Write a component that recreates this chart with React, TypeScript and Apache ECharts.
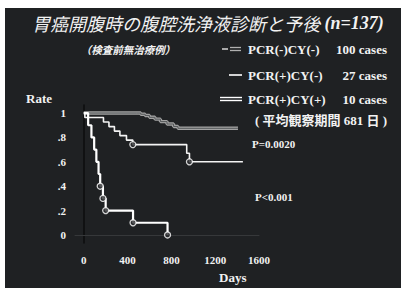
import React, { useEffect, useRef } from "react";
import * as echarts from "echarts";

const titleMain = "胃癌開腹時の腹腔洗浄液診断と予後";
const titleN = "(n=137)";
const subtitle = "（検査前無治療例）";
const seriesNames = ["PCR(-)CY(-)", "PCR(+)CY(-)", "PCR(+)CY(+)"];
const caseLabels = ["100 cases", "27 cases", "10 cases"];
const followUpNote = "( 平均観察期間 681 日 )";
const pNotes = ["P=0.0020", "P<0.001"];

// Kaplan-Meier style step data (days, survival rate)
const days1 = [0, 484, 520, 560, 600, 650, 700, 760, 820, 860, 1408];
const rate1 = [1, 1, 0.99, 0.98, 0.965, 0.95, 0.93, 0.91, 0.89, 0.875, 0.875];
const days2 = [0, 10, 180, 230, 280, 330, 390, 448, 940, 965, 1453];
const rate2 = [1, 0.963, 0.926, 0.889, 0.852, 0.815, 0.778, 0.741, 0.67, 0.6, 0.6];
const days3 = [0, 40, 70, 95, 115, 135, 150, 175, 200, 450, 765];
const rate3 = [1, 0.9, 0.8, 0.7, 0.6, 0.5, 0.4, 0.3, 0.2, 0.1, 0];
const censorDays2 = [448, 965];
const censorRates2 = [0.741, 0.6];
const censorDays3 = [150, 175, 200, 450, 765];
const censorRates3 = [0.4, 0.3, 0.2, 0.1, 0];

const xTicks = [0, 400, 800, 1200, 1600];
const yTicks = [0, 0.2, 0.4, 0.6, 0.8, 1];
const yTickLabels = ["0", ".2", ".4", ".6", ".8", "1"];

const zip = (a: number[], b: number[]) => a.map((v, i) => [v, b[i]]);

const SERIF = "'Liberation Serif', 'Noto Sans CJK JP', serif";
const CJK = "'Noto Sans CJK JP', sans-serif";
const FG = "#f2f2f2";

export default function App() {
  const ref = useRef<HTMLDivElement>(null);
  useEffect(() => {
    if (!ref.current) return;
    const chart = echarts.init(ref.current, undefined, { renderer: "svg" });
    const legendRows = [49, 75, 99];
    const graphic: any[] = [];
    // legend symbols
    graphic.push(
      { type: "line", shape: { x1: 222, y1: 49, x2: 228, y2: 49 }, style: { stroke: "#b8b8b8", lineWidth: 1.8 } },
      { type: "line", shape: { x1: 230, y1: 47.5, x2: 241, y2: 47.5 }, style: { stroke: "#b0b0b0", lineWidth: 1.3 } },
      { type: "line", shape: { x1: 230, y1: 50.5, x2: 241, y2: 50.5 }, style: { stroke: "#b0b0b0", lineWidth: 1.3 } },
      { type: "line", shape: { x1: 229, y1: 75, x2: 242, y2: 75 }, style: { stroke: "#ffffff", lineWidth: 1.6 } },
      { type: "line", shape: { x1: 220, y1: 97.5, x2: 242, y2: 97.5 }, style: { stroke: "#ffffff", lineWidth: 1.4 } },
      { type: "line", shape: { x1: 220, y1: 100.5, x2: 242, y2: 100.5 }, style: { stroke: "#ffffff", lineWidth: 1.4 } }
    );
    seriesNames.forEach((n, i) => {
      graphic.push({
        type: "text", x: 248, y: legendRows[i],
        style: { text: n, font: `bold 13px ${SERIF}`, fill: FG, textVerticalAlign: "middle", textAlign: "left" },
      });
      graphic.push({
        type: "text", x: 387, y: legendRows[i],
        style: { text: caseLabels[i], font: `bold 13px ${SERIF}`, fill: FG, textVerticalAlign: "middle", textAlign: "right" },
      });
    });
    graphic.push(
      { type: "text", x: 255, y: 120, style: { text: followUpNote, font: `bold 13px ${SERIF}`, fill: FG, textVerticalAlign: "middle" } },
      { type: "text", x: 128, y: 49, style: { text: subtitle, font: `italic bold 10.5px ${CJK}`, fill: FG, textVerticalAlign: "middle", textAlign: "center" } },
      { type: "text", x: 252, y: 144, style: { text: pNotes[0], font: `bold 11px ${SERIF}`, fill: FG, textVerticalAlign: "middle" } },
      { type: "text", x: 255, y: 197, style: { text: pNotes[1], font: `bold 11px ${SERIF}`, fill: FG, textVerticalAlign: "middle" } },
      { type: "text", x: 26, y: 98, style: { text: "Rate", font: `bold 13px ${SERIF}`, fill: FG, textVerticalAlign: "middle" } },
      { type: "text", x: 219, y: 277, style: { text: "Days", font: `bold 13px ${SERIF}`, fill: FG, textVerticalAlign: "middle" } }
    );

    chart.setOption({
      animation: false,
      backgroundColor: "transparent",
      title: {
        text: `{a|${titleMain}}{b| ${titleN}}`,
        left: 27,
        top: 9,
        textStyle: {
          rich: {
            a: { fontFamily: CJK, fontSize: 18, fontStyle: "italic", color: FG, fontWeight: "normal" },
            b: { fontFamily: SERIF, fontSize: 18, fontStyle: "italic", fontWeight: "bold", color: FG },
          },
        },
      },
      grid: { left: 75, right: 142, top: 105, bottom: 45 },
      xAxis: {
        type: "value",
        min: -80,
        max: 1600,
        splitLine: { show: false },
        axisTick: { show: false },
        axisLine: { lineStyle: { color: "#36383a", width: 1 } },
        axisLabel: {
          customValues: xTicks,
          formatter: (v: number) => String(v),
          margin: 11,
          color: FG,
          fontFamily: SERIF,
          fontWeight: "bold",
          fontSize: 11,
        },
      },
      yAxis: {
        type: "value",
        min: -0.066,
        max: 1.066,
        splitLine: { show: false },
        axisTick: { show: false },
        axisLine: { show: true, lineStyle: { color: "#0c0d0e", width: 1.5 } },
        axisLabel: {
          customValues: yTicks,
          formatter: (v: number) => {
            const i = yTicks.findIndex((t) => Math.abs(t - v) < 1e-6);
            return i >= 0 ? yTickLabels[i] : "";
          },
          margin: 9,
          color: FG,
          fontFamily: SERIF,
          fontWeight: "bold",
          fontSize: 11,
        },
      },
      graphic,
      series: [
        {
          name: seriesNames[0],
          type: "line",
          step: "end",
          showSymbol: false,
          data: zip(days1, rate1),
          lineStyle: { color: "#a2a2a2", width: 3.4 },
          z: 3,
        },
        {
          name: seriesNames[0] + " inner",
          type: "line",
          step: "end",
          showSymbol: false,
          silent: true,
          data: zip(days1, rate1),
          lineStyle: { color: "#55585a", width: 1 },
          z: 4,
        },
        {
          name: seriesNames[1],
          type: "line",
          step: "end",
          showSymbol: false,
          data: zip(days2, rate2),
          lineStyle: { color: "#f4f4f4", width: 1.6 },
          z: 5,
        },
        {
          name: seriesNames[2],
          type: "line",
          step: "end",
          showSymbol: false,
          data: zip(days3, rate3),
          lineStyle: { color: "#ffffff", width: 2.2 },
          z: 6,
        },
        {
          name: "censored",
          type: "scatter",
          symbol: "circle",
          symbolSize: 6,
          data: [...zip(censorDays2, censorRates2), ...zip(censorDays3, censorRates3)],
          itemStyle: { color: "#2a2c2e", borderColor: "#ffffff", borderWidth: 1.3 },
          z: 7,
        },
      ],
    });
    return () => chart.dispose();
  }, []);

  return (
    <div style={{ position: "fixed", left: 0, top: 0, width: 401, height: 288, background: "#ffffff" }}>
      <div style={{ position: "absolute", left: 5, top: 8, width: 396, height: 280, background: "#1f2123" }} />
      <div ref={ref} style={{ position: "absolute", left: 0, top: 0, width: 401, height: 288 }} />
    </div>
  );
}
